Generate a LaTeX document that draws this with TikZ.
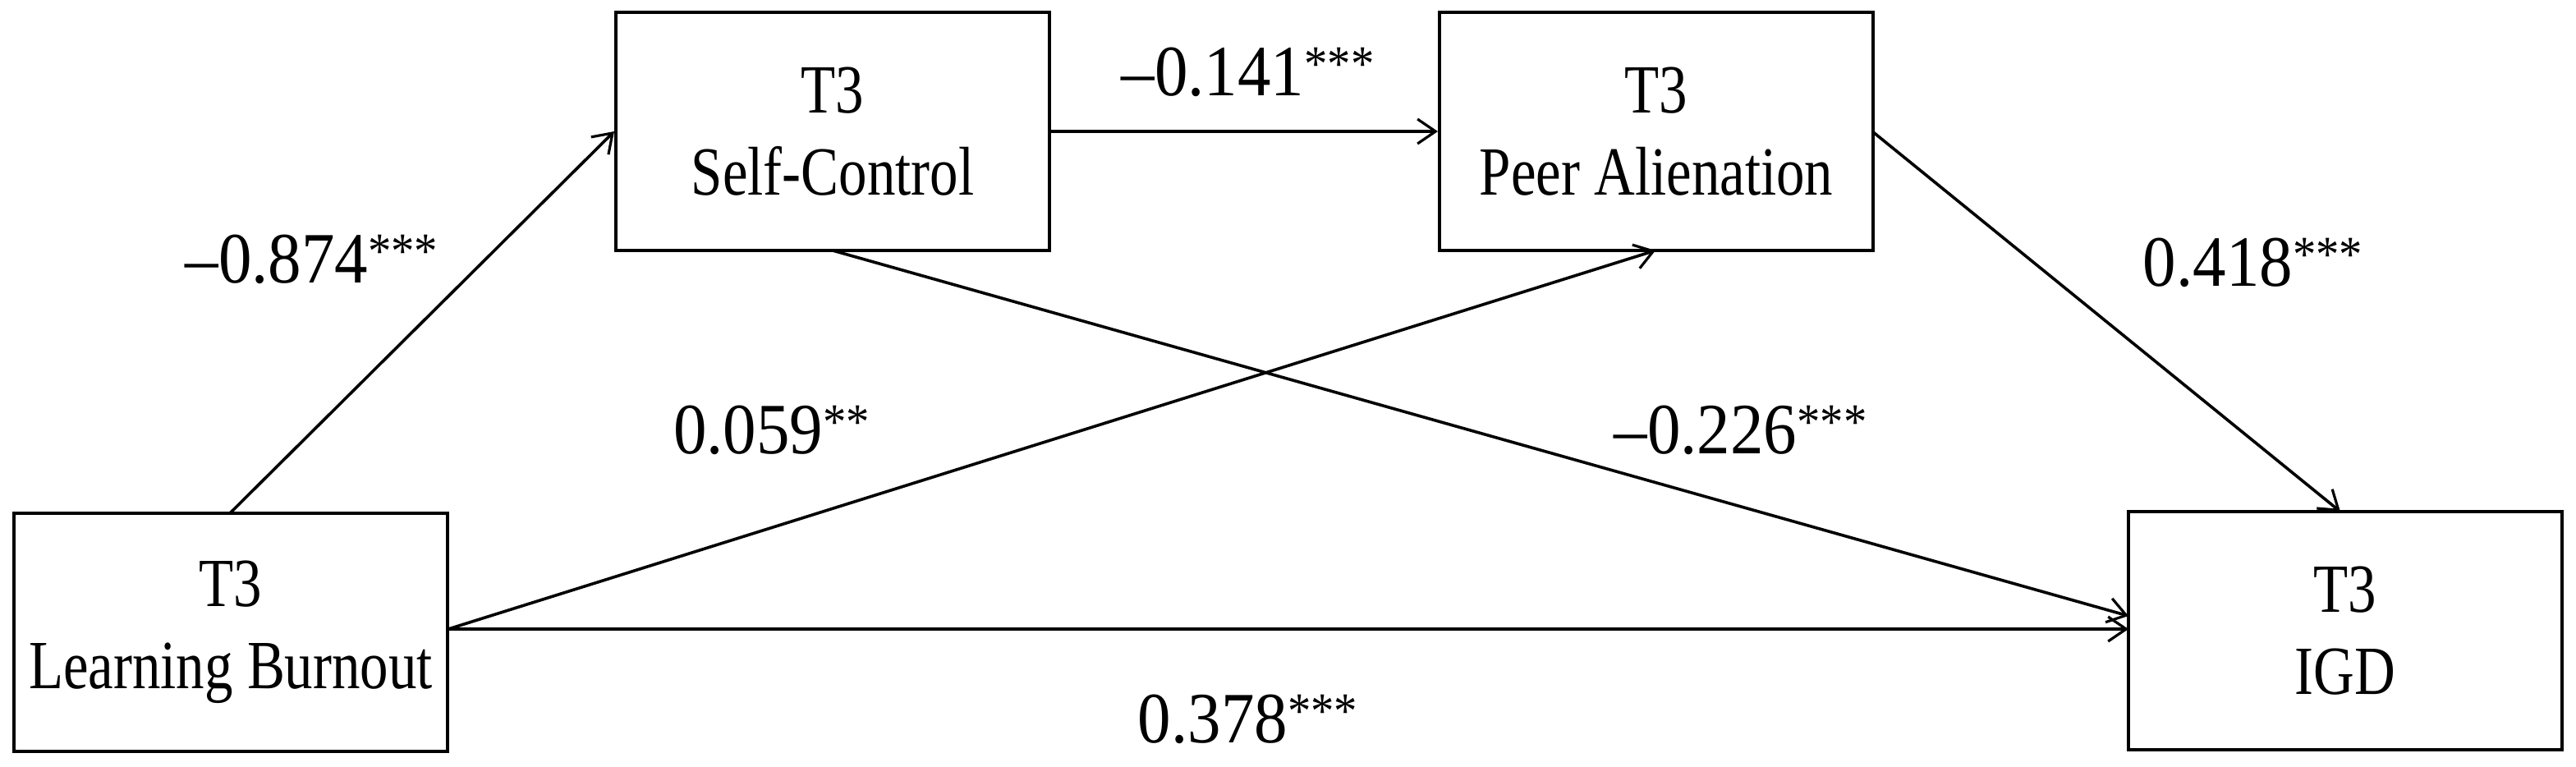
\documentclass[tikz,border=0pt]{standalone}
\usepackage{fontspec}
\setmainfont{Liberation Serif}[FakeStretch=0.82]
\newfontfamily\labfont{Liberation Serif}[FakeStretch=0.92]
\usetikzlibrary{arrows.meta}
\begin{document}
\begin{tikzpicture}[x=1pt,y=-1pt,
  box/.style={draw,line width=2pt,minimum width=264pt,minimum height=145pt,align=center,font=\fontsize{42}{50}\selectfont},
  lab/.style={font=\labfont\fontsize{44}{48}\selectfont},
  conn/.style={line width=1.8pt,-{Straight Barb[length=11pt,width=15pt,line width=1.6pt]}}]
\useasboundingbox (0,0) rectangle (1568.5,466.5);
\node[box] (lb) at (140.5,385) {T3\\Learning Burnout};
\node[box] (sc) at (507,80) {T3\\Self-Control};
\node[box] (pa) at (1008.5,80) {T3\\Peer Alienation};
\node[box] (igd) at (1428,384) {T3\\IGD};
\coordinate (lbt) at (140,312.5);
\coordinate (lbr) at (273,383);
\coordinate (sct) at (507,152.5);
\coordinate (pab) at (1008,152.5);
\coordinate (igl1) at (1296,375);
\coordinate (igl2) at (1296,383);
\coordinate (pat) at (1140,80);
\coordinate (igt) at (1425,311.5);
\draw[conn] (lbt) -- (sc.west);
\draw[conn] (sc.east) -- (pa.west);
\draw[conn] (sct) -- (igl1);
\draw[conn] (lbr) -- (pab);
\draw[conn] (lbr) -- (igl2);
\draw[conn] (pat) -- (igt);
\node[lab] (l1) at (190,158) {\textendash0.874\textsuperscript{***}};
\node[lab] (l2) at (760,44) {\textendash0.141\textsuperscript{***}};
\node[lab] (l3) at (1372,160) {0.418\textsuperscript{***}};
\node[lab] (l4) at (470,262) {0.059\textsuperscript{**}};
\node[lab] (l5) at (1060,262) {\textendash0.226\textsuperscript{***}};
\node[lab] (l6) at (760,438) {0.378\textsuperscript{***}};
\end{tikzpicture}
\end{document}
